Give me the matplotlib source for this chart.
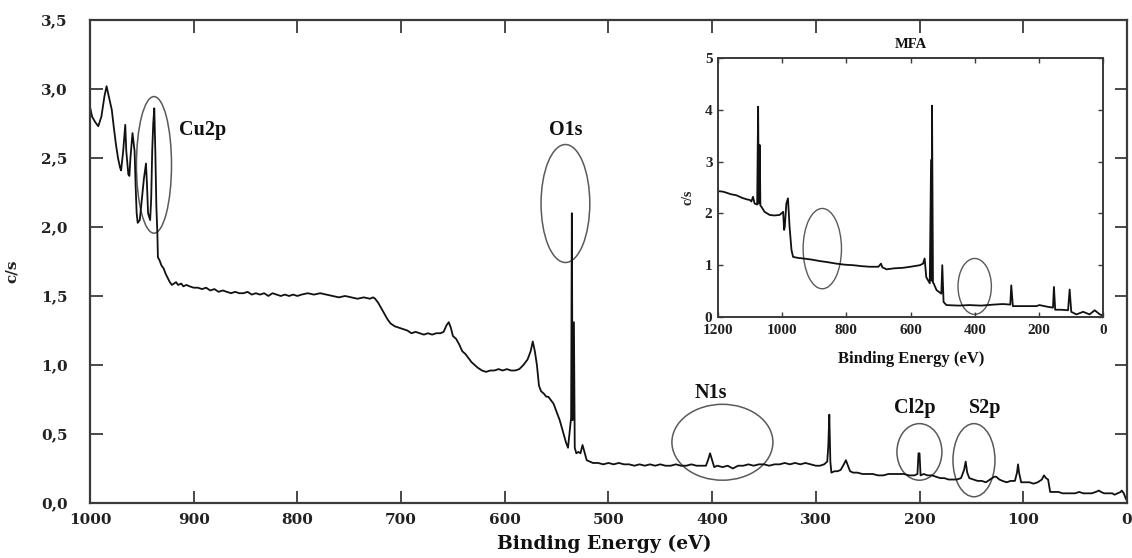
import matplotlib
matplotlib.use("Agg")
import matplotlib.pyplot as plt
from matplotlib.patches import Ellipse
from matplotlib.ticker import FuncFormatter

# main survey spectrum (binding energy eV, counts c/s)
main_trace = [
    (1000, 2.87), (998, 2.80), (995, 2.76), (992, 2.73), (989, 2.80), (986, 2.95),
    (984, 3.02), (982, 2.95), (979, 2.85), (977, 2.72), (975, 2.60), (973, 2.50),
    (971, 2.43), (970, 2.41), (968, 2.55), (966, 2.74), (965, 2.55), (963, 2.38),
    (962, 2.37), (961, 2.50), (959, 2.68), (957, 2.55), (956, 2.30), (955, 2.10),
    (954, 2.03), (952, 2.05), (950, 2.20), (948, 2.35), (946, 2.46), (945, 2.30),
    (944, 2.10), (942, 2.05), (941, 2.20), (940, 2.55), (939, 2.75), (938, 2.86),
    (937, 2.55), (936, 2.15), (935, 1.95), (934.5, 1.78), (933, 1.76), (931, 1.72),
    (929, 1.70), (927, 1.66), (925, 1.63), (923, 1.60), (921, 1.58), (919, 1.59),
    (917, 1.60), (915, 1.58), (912, 1.59), (910, 1.57), (907, 1.58), (904, 1.57),
    (900, 1.56), (896, 1.56), (892, 1.55), (888, 1.56), (884, 1.54), (880, 1.55),
    (876, 1.53), (872, 1.54), (868, 1.53), (864, 1.52), (860, 1.53), (856, 1.52),
    (852, 1.52), (848, 1.53), (844, 1.51), (840, 1.52), (836, 1.51), (832, 1.52),
    (828, 1.50), (824, 1.52), (820, 1.51), (816, 1.50), (812, 1.51), (808, 1.50),
    (804, 1.51), (800, 1.50), (796, 1.51), (790, 1.52), (784, 1.51), (778, 1.52),
    (772, 1.51), (766, 1.50), (760, 1.49), (754, 1.50), (748, 1.49), (742, 1.48),
    (736, 1.49), (730, 1.48), (727, 1.49), (725, 1.48), (722, 1.45), (719, 1.41),
    (716, 1.37), (713, 1.33), (710, 1.30), (706, 1.28), (702, 1.27), (698, 1.26),
    (694, 1.25), (690, 1.23), (686, 1.24), (682, 1.23), (678, 1.22), (674, 1.23),
    (670, 1.22), (666, 1.23), (662, 1.23), (659, 1.24), (656, 1.29), (654, 1.31),
    (652, 1.27), (650, 1.21), (647, 1.19), (644, 1.15), (641, 1.10), (638, 1.08),
    (635, 1.05), (632, 1.02), (629, 1.00), (626, 0.98), (622, 0.96), (618, 0.95),
    (614, 0.96), (610, 0.96), (606, 0.97), (602, 0.96), (598, 0.97), (594, 0.96),
    (590, 0.96), (586, 0.97), (582, 1.00), (578, 1.04), (575, 1.10), (573, 1.17),
    (571, 1.10), (569, 1.00), (567, 0.85), (565, 0.81), (562, 0.79), (560, 0.77),
    (558, 0.77), (556, 0.75), (553, 0.72), (550, 0.66), (547, 0.60), (544, 0.52),
    (541, 0.44), (539, 0.40), (537, 0.55), (536, 0.62), (535.3, 2.10), (534.6, 0.60),
    (533.3, 1.31), (532.5, 0.40), (531, 0.36), (529, 0.37), (527, 0.36), (525, 0.42),
    (523.5, 0.38), (521, 0.31), (518, 0.30), (515, 0.29), (510, 0.29), (505, 0.28),
    (500, 0.29), (495, 0.28), (490, 0.29), (485, 0.28), (480, 0.28), (475, 0.27),
    (470, 0.28), (465, 0.27), (460, 0.28), (455, 0.27), (450, 0.28), (445, 0.27),
    (440, 0.27), (435, 0.28), (430, 0.27), (425, 0.27), (420, 0.28), (415, 0.27),
    (410, 0.27), (406, 0.27), (404, 0.31), (402, 0.36), (400, 0.31), (398, 0.26),
    (395, 0.27), (390, 0.26), (385, 0.27), (380, 0.25), (375, 0.27), (370, 0.27),
    (365, 0.28), (360, 0.27), (355, 0.28), (350, 0.28), (345, 0.27), (340, 0.28),
    (335, 0.28), (330, 0.29), (325, 0.28), (320, 0.29), (315, 0.28), (310, 0.29),
    (305, 0.28), (300, 0.27), (296, 0.27), (292, 0.28), (289, 0.30), (288, 0.41),
    (287, 0.64), (286, 0.30), (285, 0.22), (282, 0.23), (279, 0.23), (276, 0.24),
    (273, 0.28), (271, 0.31), (269, 0.27), (267, 0.23), (264, 0.22), (260, 0.22),
    (255, 0.21), (250, 0.21), (245, 0.21), (240, 0.20), (235, 0.20), (230, 0.21),
    (225, 0.21), (220, 0.21), (215, 0.21), (210, 0.20), (205, 0.20), (202, 0.21),
    (201, 0.36), (200, 0.36), (199, 0.20), (196, 0.21), (192, 0.20), (188, 0.20),
    (184, 0.19), (180, 0.18), (176, 0.18), (172, 0.17), (168, 0.17), (164, 0.17),
    (160, 0.18), (157, 0.24), (155.5, 0.30), (154, 0.22), (152, 0.18), (148, 0.17),
    (144, 0.16), (140, 0.16), (136, 0.15), (132, 0.17), (128, 0.19), (126, 0.19),
    (123, 0.17), (120, 0.16), (116, 0.15), (112, 0.16), (108, 0.16), (106, 0.22),
    (105, 0.28), (104, 0.22), (102, 0.15), (98, 0.15), (94, 0.15), (90, 0.14),
    (86, 0.15), (82, 0.17), (80, 0.20), (78, 0.18), (76, 0.17), (74, 0.08),
    (70, 0.08), (66, 0.08), (62, 0.07), (58, 0.07), (54, 0.07), (50, 0.07),
    (46, 0.08), (42, 0.07), (38, 0.07), (34, 0.07), (30, 0.08), (27, 0.09),
    (25, 0.08), (22, 0.07), (18, 0.07), (14, 0.07), (12, 0.06), (9, 0.07),
    (6, 0.08), (5, 0.09), (3, 0.07), (1, 0.03), (0, 0.02),
]

# inset (MFA) spectrum
inset_trace = [
    (1200, 2.43), (1185, 2.42), (1174, 2.40), (1160, 2.37), (1143, 2.35), (1125, 2.30),
    (1110, 2.27), (1101, 2.26), (1096, 2.23), (1091, 2.32), (1086, 2.19), (1078, 2.17),
    (1075, 4.06), (1073, 2.19), (1070, 3.32), (1068, 2.15), (1065, 2.13), (1055, 2.03),
    (1039, 1.97), (1025, 1.96), (1008, 1.97), (997, 2.03), (994, 1.68), (992, 1.74),
    (987, 2.19), (982, 2.29), (977, 1.74), (971, 1.29), (966, 1.16), (950, 1.14),
    (935, 1.13), (910, 1.11), (883, 1.08), (860, 1.06), (831, 1.03), (805, 1.01),
    (779, 1.00), (750, 0.98), (727, 0.97), (700, 0.97), (692, 1.03), (688, 0.96),
    (675, 0.92), (650, 0.94), (623, 0.95), (600, 0.97), (571, 1.00), (561, 1.03),
    (556, 1.13), (551, 0.77), (540, 0.65), (536, 3.03), (534, 0.70), (533, 4.08),
    (530, 0.66), (528, 0.65), (519, 0.52), (504, 0.45), (501, 1.00), (497, 0.29),
    (488, 0.23), (450, 0.22), (416, 0.23), (380, 0.22), (340, 0.24), (312, 0.25),
    (289, 0.24), (286, 0.61), (281, 0.21), (250, 0.21), (208, 0.21), (198, 0.23),
    (175, 0.20), (156, 0.18), (153, 0.58), (149, 0.14), (130, 0.14), (109, 0.13),
    (104, 0.53), (99, 0.10), (83, 0.05), (62, 0.10), (42, 0.05), (26, 0.13),
    (10, 0.05), (0, 0.03),
]

# peak labels: text, x, y
main_labels = [("Cu2p", 891, 2.70), ("O1s", 541, 2.70), ("N1s", 401, 0.80),
               ("Cl2p", 204.5, 0.69), ("S2p", 137, 0.69)]
# ellipses: centre x, centre y, width (eV), height (c/s)
main_ellipses = [(938.3, 2.45, 33.8, 0.99), (541.5, 2.17, 47, 0.855),
                 (390.1, 0.44, 97.4, 0.55), (200.1, 0.37, 43.4, 0.41),
                 (147.5, 0.31, 40.5, 0.53)]
inset_ellipses = [(875, 1.32, 119.5, 1.55), (400, 0.59, 104, 1.08)]

main_xticks = [1000, 900, 800, 700, 600, 500, 400, 300, 200, 100, 0]
main_yticks = [0.0, 0.5, 1.0, 1.5, 2.0, 2.5, 3.0, 3.5]
inset_xticks = [1200, 1000, 800, 600, 400, 200, 0]
inset_yticks = [0, 1, 2, 3, 4, 5]

spine_col = '#3a3a3a'
ell_col = '#5a5a5a'

fig = plt.figure(figsize=(11.32, 5.58), dpi=100)
ax = fig.add_axes([0.0795, 0.0986, 0.916, 0.8656])

ax.plot([p[0] for p in main_trace], [p[1] for p in main_trace], color='#111111', lw=1.3)
for cx, cy, w, h in main_ellipses:
    ax.add_patch(Ellipse((cx, cy), w, h, fill=False, ec=ell_col, lw=1.1))
for t, x, y in main_labels:
    ax.text(x, y, t, ha='center', va='center', fontsize=14.5, fontweight='bold',
            family='Liberation Serif', color='#111111')

ax.set_xlim(1000, 0)
ax.set_ylim(0, 3.5)
ax.set_xticks(main_xticks)
ax.set_yticks(main_yticks)
ax.yaxis.set_major_formatter(FuncFormatter(lambda v, p: ('%.1f' % v).replace('.', ',')))
ax.tick_params(direction='in', length=9, width=1.3, top=True, right=True, color=spine_col,
               labelcolor='#222222')
ax.tick_params(axis='y', pad=16)
ax.tick_params(axis='x', pad=7)
for lab in ax.get_xticklabels() + ax.get_yticklabels():
    lab.set_family('DejaVu Serif')
    lab.set_fontweight('bold')
    lab.set_fontsize(11)
for s in ax.spines.values():
    s.set_color(spine_col)
    s.set_linewidth(1.6)
ax.set_xlabel('Binding Energy (eV)', family='DejaVu Serif', fontweight='bold', fontsize=13.5,
              color='#111111')
ax.xaxis.set_label_coords(0.4957, -0.066)
ax.set_ylabel('c/s', family='DejaVu Serif', fontweight='bold', fontsize=11, color='#222222')
ax.yaxis.set_label_coords(-0.0685, 0.48)

# inset
ins = fig.add_axes([0.6343, 0.4319, 0.3401, 0.4642])
ins.plot([p[0] for p in inset_trace], [p[1] for p in inset_trace], color='#111111', lw=1.3)
for cx, cy, w, h in inset_ellipses:
    ins.add_patch(Ellipse((cx, cy), w, h, fill=False, ec=ell_col, lw=1.0))
ins.set_xlim(1200, 0)
ins.set_ylim(0, 5)
ins.set_xticks(inset_xticks)
ins.set_yticks(inset_yticks)
ins.tick_params(direction='in', length=3.5, width=1.0, top=True, right=True, color=spine_col,
                labelcolor='#222222')
ins.tick_params(axis='x', pad=5)
ins.tick_params(axis='y', pad=4)
for lab in ins.get_xticklabels() + ins.get_yticklabels():
    lab.set_family('Liberation Serif')
    lab.set_fontweight('bold')
    lab.set_fontsize(11)
for s in ins.spines.values():
    s.set_color(spine_col)
    s.set_linewidth(1.4)
ins.set_title('MFA', family='Liberation Serif', fontweight='bold', fontsize=10.5, pad=7,
              color='#111111')
ins.set_xlabel('Binding Energy (eV)', family='Liberation Serif', fontweight='bold',
               fontsize=12, color='#111111')
ins.xaxis.set_label_coords(0.5026, -0.131)
ins.set_ylabel('c/s', family='Liberation Serif', fontweight='bold', fontsize=10,
               color='#222222')
ins.yaxis.set_label_coords(-0.06, 0.463)

fig.savefig('out.png', dpi=100)
